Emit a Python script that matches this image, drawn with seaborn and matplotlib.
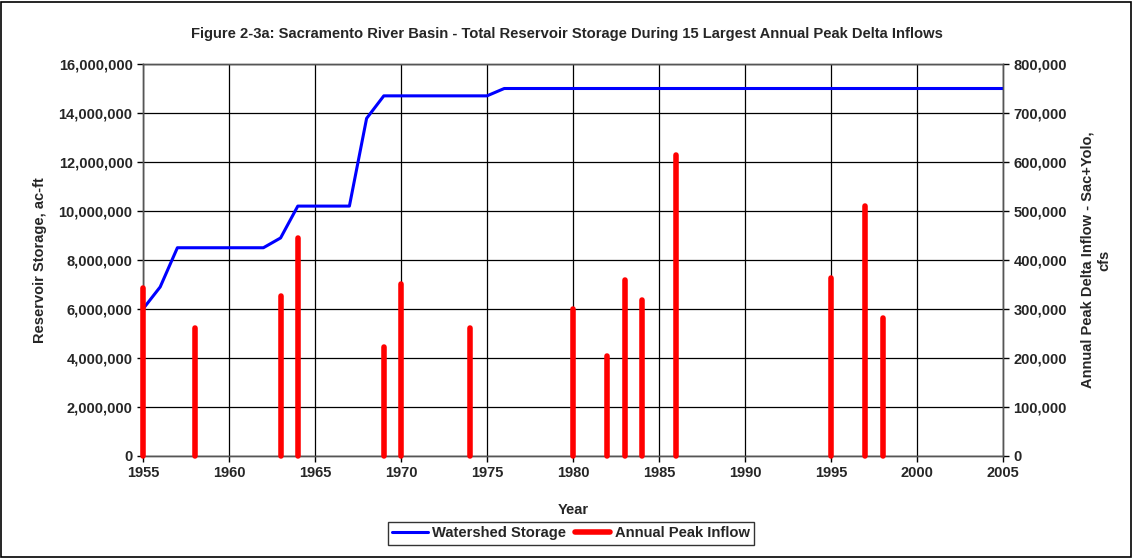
import numpy as np
import pandas as pd
import seaborn as sns
import matplotlib
matplotlib.use("Agg")
import matplotlib.pyplot as plt
from matplotlib.lines import Line2D
from matplotlib.patches import Rectangle
from matplotlib.ticker import FuncFormatter

# storage line (ac-ft)
storage_years = [1955, 1956, 1957, 1962, 1963, 1964, 1967, 1968, 1969, 1975, 1976, 2005]
storage = [6000000, 6900000, 8500000, 8500000, 8900000, 10200000, 10200000,
           13780000, 14700000, 14700000, 15000000, 15000000]

# annual peak delta inflow (cfs)
peak_years = [1955, 1958, 1963, 1964, 1969, 1970, 1974, 1980, 1982, 1983, 1984, 1986, 1995, 1997, 1998]
peak_flow = [342000, 262000, 326000, 444000, 223000, 351000, 262000, 299000,
             204000, 359000, 318000, 614000, 364000, 511000, 282000]

sns.set_theme(style="white")
plt.rcParams["font.family"] = ["Liberation Sans", "DejaVu Sans"]
plt.rcParams["font.weight"] = "bold"

fig = plt.figure(figsize=(11.33, 5.59), dpi=100)
ax = fig.add_axes([0.1262, 0.1843, 0.7591, 0.7012])
ax2 = ax.twinx()

df_s = pd.DataFrame({"Year": storage_years, "Storage": storage})
sns.lineplot(data=df_s, x="Year", y="Storage", ax=ax, color="#0000ff", linewidth=2.2, zorder=3)

bars = ax2.vlines(peak_years, 0, peak_flow, colors="#ff0000", linewidth=4, capstyle="round", zorder=3)
bars.set_clip_on(False)

ax.set_xlim(1955, 2005)
ax.set_ylim(0, 16000000)
ax2.set_ylim(0, 800000)
ax.set_xticks(range(1955, 2006, 5))
ax.set_yticks(range(0, 16000001, 2000000))
ax2.set_yticks(range(0, 800001, 100000))

fmt = FuncFormatter(lambda v, p: f"{int(v):,}")
ax.yaxis.set_major_formatter(fmt)
ax2.yaxis.set_major_formatter(fmt)

ax.grid(True, color="black", linewidth=0.9)
for a in (ax, ax2):
    for s in a.spines.values():
        s.set_color("#555555")
        s.set_linewidth(1)
    a.tick_params(axis="both", labelsize=10.5, length=4, width=1, color="black", direction="out")
    for lbl in a.get_xticklabels() + a.get_yticklabels():
        lbl.set_fontweight("bold")
ax.tick_params(left=True, bottom=True)
ax2.tick_params(right=True)

ax.set_xlabel("Year", fontsize=10.5, fontweight="bold", labelpad=16)
ax.set_ylabel("Reservoir Storage, ac-ft", fontsize=10.5, fontweight="bold", labelpad=8)
ax2.set_ylabel("Annual Peak Delta Inflow - Sac+Yolo,\ncfs", fontsize=10.5, fontweight="bold", labelpad=10)

fig.text(0.5, 0.94, "Figure 2-3a: Sacramento River Basin - Total Reservoir Storage During 15 Largest Annual Peak Delta Inflows",
         ha="center", va="center", fontsize=10.6, fontweight="bold")

handles = [Line2D([0], [0], color="#0000ff", linewidth=2.2),
           Line2D([0], [0], color="#ff0000", linewidth=4)]
leg = fig.legend(handles, ["Watershed Storage", "Annual Peak Inflow"], loc="center",
                 bbox_to_anchor=(0.504, 0.046), ncol=2, frameon=True,
                 fancybox=False, handlelength=2.4, handletextpad=0.3, columnspacing=0.6,
                 borderpad=0.3, prop={"weight": "bold", "size": 10.6})
leg.get_frame().set_edgecolor("black")
leg.get_frame().set_linewidth(1)

fig.patches.append(Rectangle((0.001, 0.003), 0.997, 0.993, transform=fig.transFigure,
                             fill=False, edgecolor="black", linewidth=1.2))

fig.savefig("out.png", dpi=100)
